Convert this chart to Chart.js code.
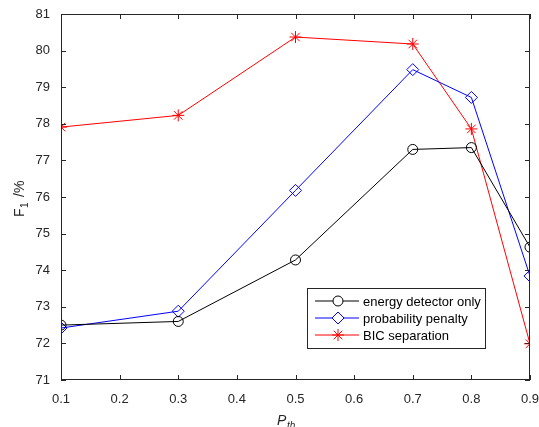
<!DOCTYPE html>
<html>
<head>
<meta charset="utf-8">
<script src="https://cdn.jsdelivr.net/npm/chart.js@4/dist/chart.umd.min.js"></script>
<style>
  html, body { margin: 0; padding: 0; background: #fff; }
  #wrap { width: 539px; height: 427px; }
</style>
</head>
<body>
<div id="wrap"><canvas id="mainChart" width="539" height="427"></canvas></div>
<script>
// data
const thresholds = [0.1, 0.3, 0.5, 0.7, 0.8, 0.9];
const energyOnly = [72.5, 72.6, 74.28, 77.3, 77.35, 74.63];
const probPenalty = [72.42, 72.88, 76.18, 79.48, 78.72, 73.84];
const bicSeparation = [77.91, 78.23, 80.37, 80.18, 77.86, 71.99];
const seriesNames = ['energy detector only', 'probability penalty', 'BIC separation'];
const xTicks = [0.1, 0.2, 0.3, 0.4, 0.5, 0.6, 0.7, 0.8, 0.9];
const yTicks = [71, 72, 73, 74, 75, 76, 77, 78, 79, 80, 81];

const FONT = '"Liberation Sans", Arial, sans-serif';
const AXIS_COLOR = '#262626';

function pts(vals) {
    return vals.map((v, i) => ({ x: thresholds[i], y: v }));
}

// box, inward ticks, axis titles and legend in matlab style
const matlabAxes = {
    id: 'matlabAxes',
    afterDraw(chart) {
        const ctx = chart.ctx;
        const a = chart.chartArea;
        const xs = chart.scales.x, ys = chart.scales.y;
        ctx.save();
        ctx.strokeStyle = AXIS_COLOR;
        ctx.lineWidth = 1;
        ctx.strokeRect(a.left + 0.5, a.top + 0.5, a.right - a.left - 1, a.bottom - a.top - 1);
        ctx.beginPath();
        xTicks.forEach(t => {
            const px = Math.round(xs.getPixelForValue(t)) + 0.5;
            ctx.moveTo(px, a.bottom); ctx.lineTo(px, a.bottom - 5);
            ctx.moveTo(px, a.top); ctx.lineTo(px, a.top + 5);
        });
        yTicks.forEach(t => {
            const py = Math.round(ys.getPixelForValue(t)) + 0.5;
            ctx.moveTo(a.left, py); ctx.lineTo(a.left + 5, py);
            ctx.moveTo(a.right, py); ctx.lineTo(a.right - 5, py);
        });
        ctx.stroke();

        // y title: F_1 /%
        ctx.fillStyle = AXIS_COLOR;
        ctx.save();
        ctx.translate(20, 198);
        ctx.rotate(-Math.PI / 2);
        ctx.textBaseline = 'middle';
        ctx.font = '14px ' + FONT;
        ctx.textAlign = 'left';
        ctx.fillText('F', -19, 0);
        ctx.font = '10px ' + FONT;
        ctx.fillText('1', -10, 5);
        ctx.font = '14px ' + FONT;
        ctx.fillText('/%', 1, 0);
        ctx.restore();

        // x title: P_th
        ctx.font = 'italic 14px ' + FONT;
        ctx.textBaseline = 'alphabetic';
        ctx.textAlign = 'left';
        ctx.fillText('P', 277, 425);
        ctx.font = 'italic 10px ' + FONT;
        ctx.fillText('th', 287, 429);

        // legend
        const lx = 307, ly = 288, lw = 178, lh = 60;
        ctx.fillStyle = '#fff';
        ctx.fillRect(lx, ly, lw, lh);
        ctx.strokeStyle = AXIS_COLOR;
        ctx.strokeRect(lx + 0.5, ly + 0.5, lw, lh);
        chart.data.datasets.forEach((ds, i) => {
            const cy = ly + 13 + i * 17;
            ctx.strokeStyle = ds.borderColor;
            ctx.lineWidth = 1;
            ctx.beginPath();
            ctx.moveTo(lx + 8, cy); ctx.lineTo(lx + 52, cy);
            ctx.stroke();
            ctx.fillStyle = '#fff';
            Chart.helpers.drawPoint(ctx, {
                pointStyle: ds.pointStyle, radius: ds.pointRadius,
                borderWidth: 1, rotation: 0
            }, lx + 31, cy);
            ctx.fillStyle = '#000';
            ctx.font = '13px ' + FONT;
            ctx.textBaseline = 'middle';
            ctx.fillText(ds.label, lx + 56, cy + 1);
        });
        ctx.restore();
    }
};

const mainCtx = document.getElementById('mainChart').getContext('2d');
const mainChart = new Chart(mainCtx, {
    type: 'line',
    data: {
        datasets: [
            {
                label: seriesNames[0],
                data: pts(energyOnly),
                borderColor: '#000000',
                backgroundColor: 'rgba(0,0,0,0)',
                pointStyle: 'circle',
                pointRadius: 5,
                borderWidth: 1,
                pointBorderWidth: 1
            },
            {
                label: seriesNames[1],
                data: pts(probPenalty),
                borderColor: '#0000ff',
                backgroundColor: 'rgba(0,0,0,0)',
                pointStyle: 'rectRot',
                pointRadius: 6,
                borderWidth: 1,
                pointBorderWidth: 1
            },
            {
                label: seriesNames[2],
                data: pts(bicSeparation),
                borderColor: '#ff0000',
                backgroundColor: 'rgba(0,0,0,0)',
                pointStyle: 'star',
                pointRadius: 6,
                borderWidth: 1,
                pointBorderWidth: 1
            }
        ]
    },
    options: {
        responsive: false,
        animation: false,
        layout: { padding: { top: 14, right: 0, left: 0, bottom: 0 } },
        plugins: {
            legend: { display: false },
            tooltip: { enabled: false }
        },
        scales: {
            x: {
                type: 'linear',
                min: 0.1,
                max: 0.9,
                afterFit(s) { s.height = 47; s.paddingRight = 9; },
                afterBuildTicks(s) { s.ticks = xTicks.map(v => ({ value: v })); },
                grid: { display: false },
                border: { display: false },
                ticks: {
                    color: AXIS_COLOR,
                    font: { family: FONT, size: 13 },
                    padding: 4,
                    maxRotation: 0,
                    callback: v => v.toFixed(1)
                }
            },
            y: {
                min: 71,
                max: 81,
                afterFit(s) { s.width = 61; },
                afterBuildTicks(s) { s.ticks = yTicks.map(v => ({ value: v })); },
                grid: { display: false },
                border: { display: false },
                ticks: {
                    color: AXIS_COLOR,
                    font: { family: FONT, size: 13 },
                    padding: 3
                }
            }
        }
    },
    plugins: [matlabAxes]
});
</script>
</body>
</html>
